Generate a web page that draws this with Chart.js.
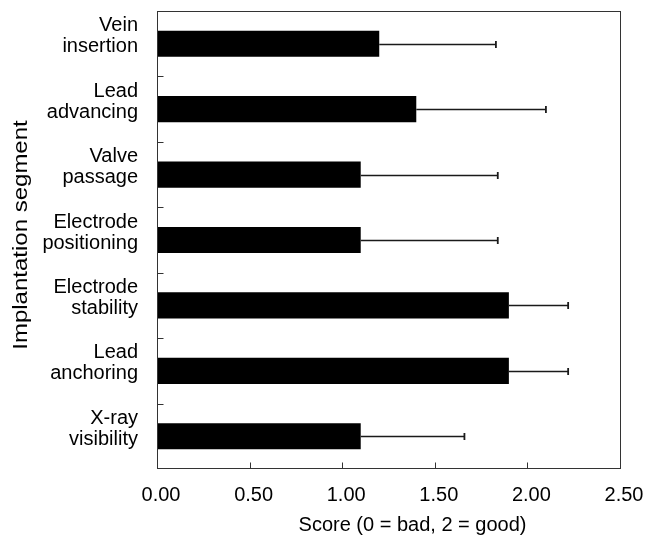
<!DOCTYPE html>
<html>
<head>
<meta charset="utf-8">
<script src="https://cdn.jsdelivr.net/npm/chart.js@4/dist/chart.umd.min.js"></script>
<style>
  html, body { margin: 0; padding: 0; background: #fff; }
  #wrap { width: 645px; height: 535px; }
</style>
</head>
<body>
<div id="wrap"><canvas id="chart" width="645" height="535"></canvas></div>
<script>
// Implantation segments (two-line labels), mean scores and their SD
const segments = [
  ['Vein', 'insertion'],
  ['Lead', 'advancing'],
  ['Valve', 'passage'],
  ['Electrode', 'positioning'],
  ['Electrode', 'stability'],
  ['Lead', 'anchoring'],
  ['X-ray', 'visibility']
];
const meanScores = [1.2, 1.4, 1.1, 1.1, 1.9, 1.9, 1.1];
const scoreSD    = [0.63, 0.7, 0.74, 0.74, 0.32, 0.32, 0.56];
const xTickLabels = ['0.00', '0.50', '1.00', '1.50', '2.00', '2.50'];
const xTitle = 'Score (0 = bad, 2 = good)';
const yTitle = 'Implantation segment';

const FONT = 'Liberation Sans, Arial, Helvetica, sans-serif';

// Frame, inward ticks, one-sided error bars and axis titles
const framePlugin = {
  id: 'frame',
  afterDatasetsDraw(chart) {
    const { ctx, chartArea: a, scales: { x, y } } = chart;
    ctx.save();

    // error bars (positive side only) with small caps
    ctx.strokeStyle = '#1a1a1a';
    meanScores.forEach((v, i) => {
      const yc = Math.round(y.getPixelForValue(i)) + 0.5;
      const x0 = x.getPixelForValue(v);
      const x1 = x.getPixelForValue(v + scoreSD[i]);
      ctx.lineWidth = 1.4;
      ctx.beginPath();
      ctx.moveTo(x0, yc);
      ctx.lineTo(x1, yc);
      ctx.stroke();
      ctx.lineWidth = 1.8;
      ctx.beginPath();
      ctx.moveTo(x1, yc - 3.5);
      ctx.lineTo(x1, yc + 3.5);
      ctx.stroke();
    });

    // plot frame
    ctx.strokeStyle = '#333';
    ctx.lineWidth = 1;
    const L = Math.round(a.left) + 0.5, R = Math.round(a.right) + 0.5;
    const T = Math.round(a.top) + 0.5, B = Math.round(a.bottom) - 0.5;
    ctx.strokeRect(L, T, R - L, B - T);

    // x ticks pointing up into the plot
    ctx.beginPath();
    for (let k = 1; k < xTickLabels.length - 1; k++) {
      const px = Math.round(x.getPixelForValue(parseFloat(xTickLabels[k]))) + 0.5;
      ctx.moveTo(px, B);
      ctx.lineTo(px, B - 6);
    }
    // y ticks between categories pointing right
    for (let i = 0; i < segments.length - 1; i++) {
      const py = Math.round(y.getPixelForValue(i + 0.5)) + 0.5;
      ctx.moveTo(L, py);
      ctx.lineTo(L + 6, py);
    }
    ctx.stroke();
    ctx.restore();
  },
  afterDraw(chart) {
    const { ctx, chartArea: a } = chart;
    ctx.save();
    ctx.fillStyle = '#000';
    ctx.font = '20px ' + FONT;
    ctx.textBaseline = 'alphabetic';

    // x axis title
    ctx.textAlign = 'center';
    ctx.fillText(xTitle, (a.left + a.right) / 2 + 24, a.bottom + 61.5);

    // y axis title, rotated
    ctx.translate(26.5, (a.top + a.bottom) / 2 - 5);
    ctx.rotate(-Math.PI / 2);
    ctx.scale(1.2, 1);
    ctx.textAlign = 'center';
    ctx.fillText(yTitle, 0, 0);
    ctx.restore();
  }
};

new Chart(document.getElementById('chart'), {
  type: 'bar',
  data: {
    labels: segments,
    datasets: [{
      data: meanScores,
      backgroundColor: '#000',
      borderWidth: 0,
      barPercentage: 0.4,
      categoryPercentage: 1.0
    }]
  },
  options: {
    indexAxis: 'y',
    responsive: false,
    animation: false,
    devicePixelRatio: 1,
    layout: { padding: { top: 11, right: 25, left: 0, bottom: 0 } },
    plugins: {
      legend: { display: false },
      tooltip: { enabled: false },
      title: { display: false }
    },
    scales: {
      x: {
        type: 'linear',
        min: 0,
        max: 2.5,
        grid: { display: false },
        border: { display: false },
        ticks: {
          stepSize: 0.5,
          color: '#000',
          font: { family: FONT, size: 20 },
          padding: 6,
          labelOffset: 4,
          maxRotation: 0,
          callback: (v, i) => xTickLabels[i]
        },
        afterFit: (s) => {
          s.height = 66;
          s.paddingLeft = 0;
          s.paddingRight = 0;
        }
      },
      y: {
        grid: { display: false, drawTicks: false },
        border: { display: false },
        ticks: {
          color: '#000',
          font: { family: FONT, size: 20, lineHeight: 1.05 },
          padding: 19,
          labelOffset: -7.5,
          autoSkip: false
        },
        afterFit: (s) => {
          s.width = 157;
          s.paddingTop = 0;
          s.paddingBottom = 0;
        }
      }
    }
  },
  plugins: [framePlugin]
});
</script>
</body>
</html>
